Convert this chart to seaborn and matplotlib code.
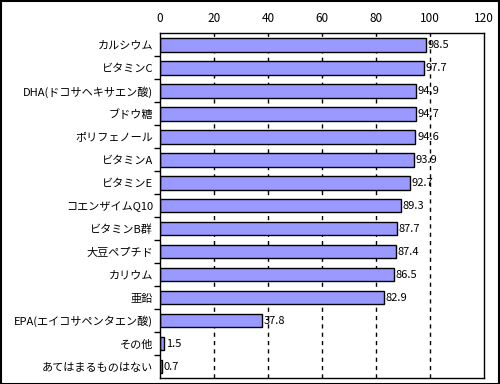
import matplotlib
matplotlib.use("Agg")
import matplotlib.pyplot as plt
import seaborn as sns
import pandas as pd
from matplotlib.patches import Rectangle
from matplotlib.ticker import FixedLocator

categories = ["カルシウム", "ビタミンC", "DHA(ドコサヘキサエン酸)", "ブドウ糖", "ポリフェノール",
              "ビタミンA", "ビタミンE", "コエンザイムQ10", "ビタミンB群", "大豆ペプチド",
              "カリウム", "亜鉛", "EPA(エイコサペンタエン酸)", "その他", "あてはまるものはない"]
values = [98.5, 97.7, 94.9, 94.7, 94.6, 93.9, 92.7, 89.3, 87.7, 87.4, 86.5, 82.9, 37.8, 1.5, 0.7]
xticks = [0, 20, 40, 60, 80, 100, 120]

sns.set_theme(style="white")
plt.rcParams['font.family'] = ['Noto Sans CJK JP', 'DejaVu Sans']

df = pd.DataFrame({"cat": categories, "val": values})

fig = plt.figure(figsize=(5, 3.84), dpi=100)
ax = fig.add_axes([0.32, 0.0156, 0.648, 0.898])
sns.barplot(data=df, x="val", y="cat", ax=ax, color="#9999FF", saturation=1,
            edgecolor="black", linewidth=1, width=0.6)

ax.set_xlim(0, 120)
ax.set_ylim(len(categories) - 0.5, -0.5)
ax.set_xticks(xticks)
ax.set_xticklabels([str(t) for t in xticks], fontsize=8.5)
ax.xaxis.tick_top()
ax.tick_params(axis="x", length=0, pad=6, colors="black")
ax.tick_params(axis="y", which="major", length=0, labelsize=8, pad=5, colors="black")
ax.yaxis.set_minor_locator(FixedLocator([i + 0.5 for i in range(len(categories) - 1)]))
ax.tick_params(axis="y", which="minor", length=4, width=1, color="black", left=True)
ax.set_xlabel("")
ax.set_ylabel("")
for t in ax.get_yticklabels():
    t.set_color("black")

for x in xticks[1:-1]:
    ax.axvline(x, color="black", linestyle=(0, (3, 3)), linewidth=1, zorder=0)

for s in ax.spines.values():
    s.set_color("black")
    s.set_linewidth(1)
    s.set_visible(True)

for i, v in enumerate(values):
    ax.text(v + 0.6, i, f"{v}", va="center", ha="left", fontsize=8, color="black")

fig.patches.append(Rectangle((0.001, 0.001), 0.997, 0.996, transform=fig.transFigure,
                             fill=False, edgecolor="black", linewidth=1.5))

fig.savefig("out.png", dpi=100)
